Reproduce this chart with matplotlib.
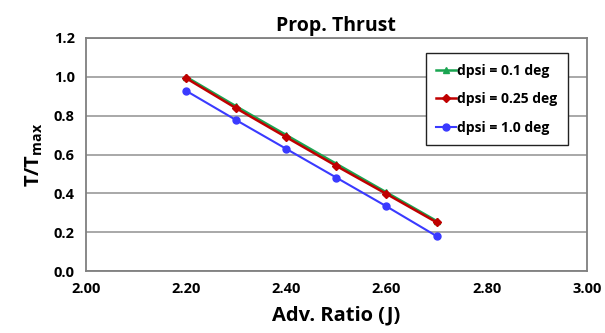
import numpy as np
import matplotlib.pyplot as plt

plt.rcParams['font.family'] = ['Open Sans', 'DejaVu Sans']
plt.rcParams['font.weight'] = 'bold'
plt.rcParams['mathtext.fontset'] = 'custom'
plt.rcParams['mathtext.bf'] = 'Open Sans:bold'
plt.rcParams['mathtext.rm'] = 'Open Sans:bold'

J = [2.2, 2.3, 2.4, 2.5, 2.6, 2.7]
t_01 = [1.000, 0.848, 0.700, 0.552, 0.405, 0.258]
t_025 = [0.993, 0.838, 0.689, 0.541, 0.397, 0.251]
t_10 = [0.928, 0.777, 0.629, 0.481, 0.333, 0.180]

fig = plt.figure(figsize=(6.05, 3.33), dpi=100)
ax = fig.add_axes([0.142, 0.186, 0.828, 0.700])

ax.plot(J, t_01, color='#1aa551', marker='^', markersize=5, lw=1.8, label='dpsi = 0.1 deg')
ax.plot(J, t_025, color='#c00000', marker='D', markersize=4.5, lw=1.8, label='dpsi = 0.25 deg')
ax.plot(J, t_10, color='#3a3aff', marker='o', markersize=5, lw=1.5, label='dpsi = 1.0 deg')

ax.set_xlim(2.0, 3.0)
ax.set_ylim(0.0, 1.2)
ax.set_xticks(np.arange(2.0, 3.01, 0.2))
ax.set_yticks(np.arange(0.0, 1.21, 0.2))
ax.set_xticklabels(['%.2f' % v for v in np.arange(2.0, 3.01, 0.2)])
ax.set_yticklabels(['%.1f' % v for v in np.arange(0.0, 1.21, 0.2)])
ax.tick_params(length=0, labelsize=10.5, pad=8)
ax.grid(axis='y', color='#9a9a9a', lw=1.2)
ax.set_axisbelow(True)
for s in ax.spines.values():
    s.set_color('#7f7f7f')
    s.set_linewidth(1.3)

ax.set_title('Prop. Thrust', fontsize=14, fontweight='bold', pad=5)
ax.set_xlabel('Adv. Ratio (J)', fontsize=14.5, fontweight='bold', labelpad=7)
ax.set_ylabel(r'T/T$_{\mathrm{max}}$', fontsize=14.5, fontweight='bold', labelpad=6)

leg = ax.legend(loc='upper right', bbox_to_anchor=(0.962, 0.935), fontsize=10,
                handlelength=1.4, handletextpad=0.1, labelspacing=1.05,
                borderpad=0.75, borderaxespad=0, fancybox=False, framealpha=1)
leg.get_frame().set_edgecolor('#222222')
leg.get_frame().set_linewidth(1.0)

fig.savefig('out.png', dpi=100)
